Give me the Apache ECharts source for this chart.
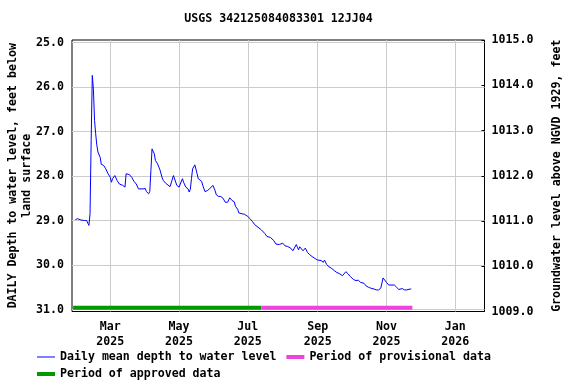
<!DOCTYPE html>
<html><head><meta charset="utf-8">
<script src="https://cdn.jsdelivr.net/npm/echarts@6/dist/echarts.min.js"></script>
<style>html,body{margin:0;padding:0;background:#fff}#c{width:576px;height:384px}</style>
</head><body><div id="c"></div>
<script>
const titleText = 'USGS 342125084083301 12JJ04';
const leftAxisName = 'DAILY Depth to water level, feet below\nland surface';
const rightAxisName = 'Groundwater level above NGVD 1929, feet';
const seriesNames = ['Daily mean depth to water level', 'Period of provisional data', 'Period of approved data'];

const dates = [
  '2025-01-29','2025-01-31','2025-02-03','2025-02-06','2025-02-08','2025-02-09','2025-02-10','2025-02-11','2025-02-12','2025-02-13',
  '2025-02-14','2025-02-15','2025-02-16','2025-02-17','2025-02-18','2025-02-20','2025-02-21','2025-02-23','2025-02-25','2025-02-27',
  '2025-03-01','2025-03-02','2025-03-03','2025-03-05','2025-03-07','2025-03-09','2025-03-12','2025-03-14','2025-03-15','2025-03-18',
  '2025-03-20','2025-03-22','2025-03-24','2025-03-26','2025-03-30','2025-04-01','2025-04-02','2025-04-04','2025-04-05','2025-04-06',
  '2025-04-07','2025-04-08','2025-04-09','2025-04-10','2025-04-12','2025-04-14','2025-04-16','2025-04-17','2025-04-19','2025-04-23',
  '2025-04-24','2025-04-26','2025-04-27','2025-04-29','2025-05-01','2025-05-02','2025-05-04','2025-05-05','2025-05-07','2025-05-09',
  '2025-05-10','2025-05-11','2025-05-12','2025-05-13','2025-05-15','2025-05-16','2025-05-17','2025-05-18','2025-05-21','2025-05-22',
  '2025-05-24','2025-05-26','2025-05-28','2025-05-29','2025-05-31','2025-06-02','2025-06-03','2025-06-05','2025-06-07','2025-06-09',
  '2025-06-11','2025-06-13','2025-06-15','2025-06-17','2025-06-19','2025-06-20','2025-06-22','2025-06-23','2025-06-26','2025-06-28',
  '2025-07-01','2025-07-03','2025-07-05','2025-07-07','2025-07-10','2025-07-13','2025-07-16','2025-07-18','2025-07-21','2025-07-24',
  '2025-07-26','2025-07-29','2025-07-30','2025-08-01','2025-08-03','2025-08-05','2025-08-08','2025-08-10','2025-08-11','2025-08-13',
  '2025-08-14','2025-08-15','2025-08-16','2025-08-19','2025-08-21','2025-08-23','2025-08-25','2025-08-27','2025-08-30','2025-09-01',
  '2025-09-04','2025-09-06','2025-09-07','2025-09-09','2025-09-11','2025-09-13','2025-09-16','2025-09-18','2025-09-20','2025-09-23',
  '2025-09-24','2025-09-26','2025-09-28','2025-09-30','2025-10-03','2025-10-05','2025-10-07','2025-10-09','2025-10-12','2025-10-14',
  '2025-10-16','2025-10-18','2025-10-21','2025-10-23','2025-10-25','2025-10-27','2025-10-28','2025-10-29','2025-10-30','2025-11-01',
  '2025-11-03','2025-11-08','2025-11-10','2025-11-12','2025-11-13','2025-11-15','2025-11-17','2025-11-19','2025-11-22','2025-11-23'
];
const depths = [
  28.98,28.96,28.99,29.00,29.00,29.06,29.11,28.85,27.20,25.74,
  26.05,26.75,27.05,27.30,27.46,27.58,27.74,27.76,27.84,27.95,
  28.03,28.14,28.06,27.99,28.10,28.18,28.21,28.25,27.95,27.97,
  28.03,28.12,28.18,28.29,28.29,28.28,28.35,28.40,28.35,27.88,
  27.39,27.35,27.50,27.65,27.73,27.86,28.04,28.10,28.16,28.24,
  28.21,27.99,28.03,28.21,28.25,28.22,28.06,28.14,28.25,28.29,
  28.36,28.30,28.06,27.84,27.75,27.78,27.95,28.06,28.12,28.21,
  28.35,28.33,28.29,28.25,28.21,28.33,28.42,28.46,28.46,28.50,
  28.59,28.59,28.49,28.55,28.58,28.68,28.75,28.83,28.85,28.86,
  28.91,28.96,29.02,29.09,29.15,29.21,29.29,29.36,29.38,29.45,
  29.53,29.54,29.56,29.51,29.57,29.58,29.62,29.68,29.66,29.54,
  29.60,29.66,29.59,29.68,29.62,29.72,29.77,29.81,29.86,29.89,
  29.90,29.94,29.89,29.99,30.04,30.07,30.13,30.17,30.19,30.24,
  30.26,30.15,30.20,30.26,30.33,30.35,30.34,30.39,30.41,30.47,
  30.50,30.52,30.54,30.56,30.56,30.52,30.50,30.29,30.33,30.39,
  30.45,30.45,30.50,30.55,30.54,30.53,30.56,30.56,30.54,30.54
];

const approvedPeriod = ['2025-01-27', '2025-07-13'];
const provisionalPeriod = ['2025-07-13', '2025-11-24'];
const periodBarDepth = 30.96;

const xRange = ['2025-01-26', '2026-01-27'];
const xTickDates = ['2025-03-01','2025-05-01','2025-07-01','2025-09-01','2025-11-01','2026-01-01'];
const xTickLabels = ['Mar\n2025','May\n2025','Jul\n2025','Sep\n2025','Nov\n2025','Jan\n2026'];
const depthTicks = [25, 26, 27, 28, 29, 30, 31];
const depthRange = [24.944, 31.045];
const elevRange = [1009, 1015];

const toTs = s => { const [y, m, d] = s.split('-').map(Number); return Date.UTC(y, m - 1, d); };
const xTickTs = xTickDates.map(toTs);

const FONT = 'DejaVu Sans Mono';
const txt = { fontFamily: FONT, fontWeight: 'bold', fontSize: 11.6, color: '#000' };
// legend glyphs: 18x12 box, thin or thick horizontal bar (tiny corner dots fix the box)
const thinIcon = 'path://M0,0h0.01v0.01h-0.01z M17.99,11.99h0.01v0.01h-0.01z M0,5.5h18v1h-18z';
const thickIcon = 'path://M0,0h0.01v0.01h-0.01z M17.99,11.99h0.01v0.01h-0.01z M0,4h18v4h-18z';

const chart = echarts.init(document.getElementById('c'), null, { renderer: 'canvas' });
chart.setOption({
  animation: false,
  backgroundColor: '#fff',
  title: { text: titleText, left: 278.5, top: 13, padding: 0, textAlign: 'center', textStyle: Object.assign({}, txt) },
  grid: { left: 72, right: 91.5, top: 40, bottom: 72.5, outerBoundsMode: 'none', containLabel: false,
          show: true, borderColor: '#000', borderWidth: 1, backgroundColor: 'transparent' },
  legend: [
    { left: 37, top: 351, itemWidth: 18, itemHeight: 12, itemGap: 10, padding: 0, selectedMode: false,
      data: [{ name: seriesNames[0], icon: thinIcon }, { name: seriesNames[1], icon: thickIcon }],
      textStyle: Object.assign({}, txt) },
    { left: 37, top: 368, itemWidth: 18, itemHeight: 12, itemGap: 10, padding: 0, selectedMode: false,
      data: [{ name: seriesNames[2], icon: thickIcon }], textStyle: Object.assign({}, txt) }
  ],
  xAxis: {
    type: 'value', min: toTs(xRange[0]), max: toTs(xRange[1]),
    axisLine: { show: false }, axisTick: { show: false, customValues: xTickTs },
    splitLine: { show: true, lineStyle: { color: '#cccccc', width: 1 } },
    axisLabel: { customValues: xTickTs, margin: 8, lineHeight: 15, fontFamily: FONT, fontWeight: 'bold', fontSize: 11.6, color: '#000',
      formatter: v => { const i = xTickTs.indexOf(v); return i >= 0 ? xTickLabels[i] : ''; } }
  },
  yAxis: [
    { type: 'value', inverse: true, min: depthRange[0], max: depthRange[1], position: 'left',
      name: leftAxisName, nameLocation: 'middle', nameRotate: 90, nameGap: 38, nameMoveOverlap: false,
      nameTextStyle: Object.assign({}, txt, { lineHeight: 14 }),
      axisLine: { show: false }, axisTick: { show: false, customValues: depthTicks },
      splitLine: { show: true, lineStyle: { color: '#cccccc', width: 1 } },
      axisLabel: { customValues: depthTicks, margin: 8, fontFamily: FONT, fontWeight: 'bold', fontSize: 11.6, color: '#000', formatter: v => v.toFixed(1) } },
    { type: 'value', min: elevRange[0], max: elevRange[1], interval: 1, position: 'right',
      name: rightAxisName, nameLocation: 'middle', nameRotate: 90, nameGap: 66, nameMoveOverlap: false,
      nameTextStyle: Object.assign({}, txt),
      axisLine: { show: false }, axisTick: { show: true, inside: true, length: 3, lineStyle: { color: '#000' } },
      splitLine: { show: false },
      axisLabel: { margin: 7, fontFamily: FONT, fontWeight: 'bold', fontSize: 11.6, color: '#000', formatter: v => v.toFixed(1) } }
  ],
  series: [
    { name: seriesNames[2], type: 'line', yAxisIndex: 0, symbol: 'none', silent: true,
      lineStyle: { color: '#009900', width: 4 }, itemStyle: { color: '#009900' },
      data: approvedPeriod.map(d => [toTs(d), periodBarDepth]) },
    { name: seriesNames[1], type: 'line', yAxisIndex: 0, symbol: 'none', silent: true,
      lineStyle: { color: '#ee44dd', width: 4 }, itemStyle: { color: '#ee44dd' },
      data: provisionalPeriod.map(d => [toTs(d), periodBarDepth]) },
    { name: seriesNames[0], type: 'line', yAxisIndex: 0, symbol: 'none', silent: true, z: 5,
      lineStyle: { color: '#0000ff', width: 1 }, itemStyle: { color: '#0000ff' },
      data: dates.map((d, i) => [toTs(d), depths[i]]) }
  ]
});
</script></body></html>
